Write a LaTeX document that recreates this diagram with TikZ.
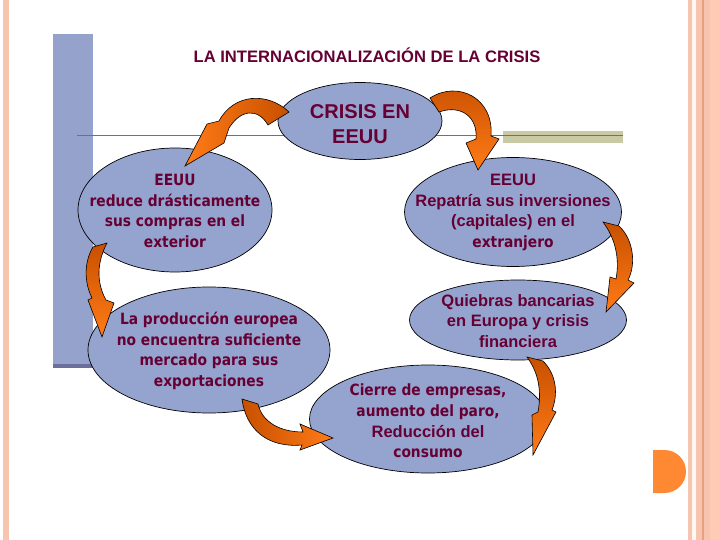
\documentclass[tikz,border=0pt]{standalone}
\usepackage{fontspec}
\setmainfont{Liberation Sans}
\newfontfamily\tah[FakeStretch=0.89]{DejaVu Sans}
\usetikzlibrary{shapes.geometric}
\definecolor{ellblue}{HTML}{95A3CF}
\definecolor{barblue}{HTML}{94A2CC}
\definecolor{bardark}{HTML}{6C6F99}
\definecolor{txt}{HTML}{660033}
\definecolor{olive}{HTML}{C9C9A3}
\definecolor{lgray}{HTML}{6E6E86}
\definecolor{pinkA}{HTML}{F6C4AF}
\definecolor{pinkB}{HTML}{FFCBB5}
\definecolor{pinkline}{HTML}{E9A07F}
\definecolor{offw}{HTML}{FFF8F2}
\definecolor{dorange}{HTML}{C85000}
\definecolor{borange}{HTML}{FF7B17}
\definecolor{dot}{HTML}{FF8833}
\tikzset{
  ell/.style={ellipse, draw=black, line width=0.7pt, fill=ellblue, inner sep=0pt},
  lbl/.style={align=center, text=txt, inner sep=0pt},
  tahb/.style={font=\tah\bfseries\fontsize{15.5}{20.7}\selectfont},
  arib/.style={font=\bfseries\fontsize{16.5}{20.7}\selectfont},
  arr/.style={draw=black, line width=0.6pt}
}
\begin{document}
\begin{tikzpicture}[x=1pt,y=-1pt]
\useasboundingbox (0,0) rectangle (720,540);
\fill[white] (0,0) rectangle (720,540);
% page border stripes
\fill[pinkA] (3,0) rectangle (9,540);
\fill[pinkA] (688,0) rectangle (692,540);
\fill[offw] (692,0) rectangle (696,540);
\fill[pinkA] (696,0) rectangle (702,540);
\fill[pinkline] (702,0) rectangle (703.5,540);
\fill[pinkA] (703.5,0) rectangle (710,540);
\fill[pinkB] (710,0) rectangle (720,540);
% orange half disc
\fill[dot] (653,450) -- (664.5,450) .. controls (676.4,450) and (686,459.6) .. (686,471.5)
  .. controls (686,483.4) and (676.4,493) .. (664.5,493) -- (653,493) -- cycle;
% decorative bars
\fill[barblue] (53,34) rectangle (93,364);
\fill[bardark] (53,364) rectangle (100,368);
\fill[olive] (503,131) rectangle (623,143);
\draw[lgray, line width=0.9pt] (77,135.5) -- (623,135.5);
% title
\node[lbl, font=\bfseries\fontsize{16.6}{20}\selectfont] (title) at (367,55) {LA INTERNACIONALIZACIÓN DE LA CRISIS};
% ellipses
\node[ell, minimum width=164pt, minimum height=77pt] (top) at (360,121) {};
\node[ell, minimum width=194pt, minimum height=124pt] (la) at (175,210) {};
\node[ell, minimum width=242pt, minimum height=126pt] (lb) at (209,350) {};
\node[ell, minimum width=217pt, minimum height=109pt] (ra) at (513,212) {};
\node[ell, minimum width=217pt, minimum height=80pt] (rb) at (518,320) {};
\node[ell, minimum width=237pt, minimum height=108pt] (bt) at (428,419) {};
% texts
\node[lbl, font=\bfseries\fontsize{20}{25}\selectfont] (topt) at ([yshift=-3.5pt]top.center) {CRISIS EN\\EEUU};
\node[lbl, tahb] (lat) at ([yshift=-1pt]la.center) {EEUU\\reduce drásticamente\\sus compras en el\\exterior};
\node[lbl, tahb] (lbt) at ([yshift=-1pt]lb.center) {La producción europea\\no encuentra suficiente\\mercado para sus\\exportaciones};
\node[lbl, arib] (rat) at ([yshift=-0.5pt]ra.center) {EEUU\\Repatría sus inversiones\\(capitales) en el\\{\tah\fontsize{15.5}{20.7}\selectfont extranjero}};
\node[lbl, arib] (rbt) at ([yshift=-1pt]rb.center) {Quiebras bancarias\\en Europa y crisis\\financiera};
\node[lbl, tahb] (btt) at ([yshift=-2pt]bt.center) {Cierre de empresas,\\aumento del paro,\\{\normalfont\bfseries\fontsize{16.5}{20.7}\selectfont Reducción del}\\consumo};
% curved block arrows
\path[arr, left color=borange, right color=dorange] (289,112) .. controls (268,92) and (234,93) .. (219,121) -- (207,124) -- (185,166) -- (224,143) -- (229,128) .. controls (241,109) and (258,108) .. (268,125) -- cycle;
\path[arr, top color=dorange, bottom color=borange] (430,98) .. controls (458,80) and (494,98) .. (491,136) -- (499,139) -- (478,170) -- (466,143) -- (476,139) .. controls (478,118) and (462,104) .. (439,112) -- cycle;
\path[arr, top color=dorange, bottom color=borange] (603,222) -- (619,226) .. controls (634,240) and (636,265) .. (628,280) -- (634,283) -- (606,312) -- (610,277) -- (616,279) .. controls (620,258) and (615,238) .. (603,222) -- cycle;
\path[arr, top color=dorange, bottom color=borange] (527,357) -- (543,361) .. controls (557,375) and (558,395) .. (552,410) -- (556,412) -- (533,455) -- (532,415) -- (538,412) .. controls (542,390) and (538,372) .. (527,357) -- cycle;
\path[arr, left color=dorange, right color=borange] (242,399) -- (258,404) .. controls (262,422) and (280,432) .. (303,432) -- (300,424) -- (333,438) -- (300,450) -- (302,445) .. controls (268,448) and (246,430) .. (242,399) -- cycle;
\path[arr, top color=dorange, bottom color=borange] (107,243) -- (93,247) .. controls (84,262) and (84,282) .. (92,298) -- (88,300) -- (102,337) -- (114,303) -- (106,300) .. controls (96,282) and (97,262) .. (107,243) -- cycle;
\end{tikzpicture}
\end{document}
